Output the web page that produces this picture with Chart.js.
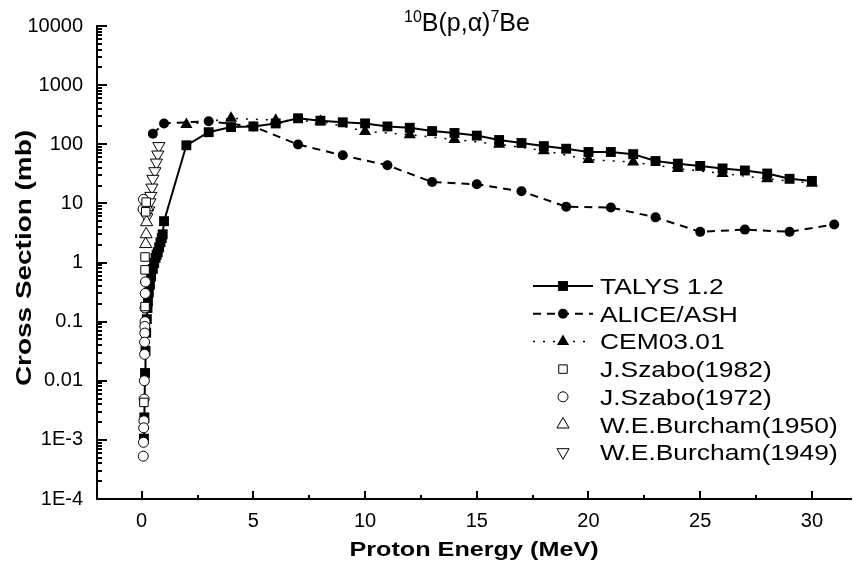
<!DOCTYPE html>
<html>
<head>
<meta charset="utf-8">
<script src="https://cdn.jsdelivr.net/npm/chart.js@4.4.0/dist/chart.umd.min.js"></script>
<style>
  html, body { margin: 0; padding: 0; background: #fff; }
  #wrap { width: 859px; height: 566px; }
</style>
</head>
<body>
<div id="wrap"><canvas id="chart" width="859" height="566"></canvas></div>
<script>
// Values (energy in MeV, cross section in mb)
const talysE = [0.10, 0.12, 0.15, 0.17, 0.20, 0.23, 0.26, 0.28, 0.32, 0.37, 0.42, 0.50, 0.56, 0.62, 0.67, 0.72, 0.78, 0.84, 0.90, 0.94,
  1, 2, 3, 4, 5, 6, 7, 8, 9, 10, 11, 12, 13, 14, 15, 16, 17, 18, 19, 20, 21, 22, 23, 24, 25, 26, 27, 28, 29, 30];
const talysXS = [0.00105, 0.0024, 0.0135, 0.032, 0.065, 0.11, 0.17, 0.22, 0.31, 0.42, 0.58, 0.78, 0.98, 1.2, 1.35, 1.5, 1.8, 2.2, 2.6, 3.0,
  5.0, 96, 160, 195, 200, 225, 275, 250, 235, 225, 200, 190, 167, 155, 140, 118, 105, 93, 84, 74, 74, 68, 52, 47, 43, 39, 36, 32, 26, 24];

const aliceE = [0.5, 1, 3, 5, 7, 9, 11, 13, 15, 17, 19, 21, 23, 25, 27, 29, 31];
const aliceXS = [150, 225, 245, 200, 99, 65, 44, 23, 21, 16, 8.8, 8.5, 5.8, 3.3, 3.6, 3.3, 4.4];

const cemE = [2, 4, 6, 8, 10, 12, 14, 16, 18, 20, 22, 24, 26, 28, 30];
const cemXS = [215, 275, 255, 245, 165, 145, 120, 100, 78, 55, 50, 39, 32, 26, 22];

const szabo82E = [0.20, 0.18, 0.15, 0.15, 0.15, 0.10];
const szabo82XS = [10.5, 7.2, 1.24, 0.75, 0.18, 0.0043];

const szabo72E = [0.08, 0.06, 0.17, 0.16, 0.15, 0.15, 0.14, 0.14, 0.13, 0.13, 0.12, 0.11, 0.10, 0.09, 0.08, 0.07];
const szabo72XS = [11.7, 8.0, 0.47, 0.30, 0.17, 0.10, 0.083, 0.064, 0.045, 0.028, 0.010, 0.0049, 0.0021, 0.0016, 0.00091, 0.00053];

const burcham50E = [0.25, 0.22, 0.20, 0.18];
const burcham50XS = [8.6, 4.8, 3.0, 2.05];

const burcham49E = [0.77, 0.72, 0.66, 0.59, 0.50, 0.46, 0.41, 0.37, 0.32, 0.23];
const burcham49XS = [93, 67, 49, 35, 26, 18.5, 13.4, 10.4, 7.6, 5.8];

const xTickValues = [0, 5, 10, 15, 20, 25, 30];
const yTickValues = [1e-4, 1e-3, 0.01, 0.1, 1, 10, 100, 1000, 10000];
const yTickLabels = ['1E-4', '1E-3', '0.01', '0.1', '1', '10', '100', '1000', '10000'];

const FONT = '"Liberation Sans", Arial, sans-serif';

function pts(xs, ys) {
  return xs.map((x, i) => ({ x: x, y: ys[i] }));
}

// Inward tick marks, title, axis titles and legend
const decor = {
  id: 'decor',
  afterDraw(chart) {
    const ctx = chart.ctx;
    const a = chart.chartArea;
    const xs = chart.scales.x, ys = chart.scales.y;
    ctx.save();
    ctx.strokeStyle = '#000';
    ctx.lineWidth = 2;
    ctx.setLineDash([]);
    function seg(x1, y1, x2, y2) {
      ctx.beginPath(); ctx.moveTo(x1, y1); ctx.lineTo(x2, y2); ctx.stroke();
    }
    // y axis ticks
    yTickValues.forEach((v, i) => {
      const p = Math.round(ys.getPixelForValue(v));
      seg(a.left, p, a.left + 10, p);
      if (i < yTickValues.length - 1) {
        for (let k = 2; k <= 9; k++) {
          const q = Math.round(ys.getPixelForValue(v * k));
          seg(a.left, q, a.left + 5, q);
        }
      }
    });
    // x axis ticks
    xTickValues.forEach((v) => {
      const p = Math.round(xs.getPixelForValue(v));
      seg(p, a.bottom, p, a.bottom - 8);
      const m = xs.getPixelForValue(v + 2.5);
      if (m < a.right) seg(Math.round(m), a.bottom, Math.round(m), a.bottom - 4);
    });

    // title 10B(p,a)7Be
    ctx.fillStyle = '#000';
    ctx.textBaseline = 'alphabetic';
    let tx = 404;
    const ty = 31;
    const parts = [['10', 16, -9], ['B(p,\u03b1)', 25, 0], ['7', 16, -9], ['Be', 25, 0]];
    parts.forEach(([t, s, dy]) => {
      ctx.font = s + 'px ' + FONT;
      ctx.fillText(t, tx, ty + dy);
      tx += ctx.measureText(t).width;
    });

    // axis titles
    ctx.textAlign = 'center';
    ctx.textBaseline = 'middle';
    ctx.font = 'bold 21px ' + FONT;
    ctx.save();
    ctx.translate((a.left + a.right) / 2, 550);
    ctx.scale(1.2, 1);
    ctx.fillText('Proton Energy (MeV)', 0, 0);
    ctx.restore();
    ctx.font = 'bold 22px ' + FONT;
    ctx.save();
    ctx.translate(25, 258);
    ctx.rotate(-Math.PI / 2);
    ctx.scale(1.27, 1);
    ctx.fillText('Cross Section (mb)', 0, 0);
    ctx.restore();

    // legend
    ctx.textAlign = 'left';
    ctx.textBaseline = 'alphabetic';
    chart.data.datasets.forEach((ds, i) => {
      const ry = 286 + i * 27.7;
      if (ds.showLine) {
        ctx.strokeStyle = '#000';
        ctx.lineWidth = ds.borderWidth;
        ctx.setLineDash(ds.borderDash || []);
        seg(533, ry, 593, ry);
        ctx.setLineDash([]);
      }
      ctx.fillStyle = ds.pointBackgroundColor;
      ctx.strokeStyle = '#000';
      ctx.lineWidth = ds.pointBorderWidth;
      Chart.helpers.drawPoint(ctx, {
        pointStyle: ds.pointStyle,
        radius: ds.pointRadius,
        rotation: ds.pointRotation || 0,
        borderWidth: ds.pointBorderWidth
      }, 563, ry);
      ctx.fillStyle = '#000';
      ctx.font = '22px ' + FONT;
      ctx.save();
      ctx.translate(600, ry + 8);
      ctx.scale(1.2, 1);
      ctx.fillText(ds.label, 0, 0);
      ctx.restore();
    });
    ctx.restore();
  }
};

const model = (label, xs, ys, style, radius, dash, width, order) => ({
  label: label,
  data: pts(xs, ys),
  showLine: true,
  borderColor: '#000',
  borderWidth: width,
  borderDash: dash,
  pointStyle: style,
  pointRadius: radius,
  pointBackgroundColor: '#000',
  pointBorderColor: '#000',
  pointBorderWidth: 0,
  tension: 0,
  order: order
});

const expt = (label, xs, ys, style, radius, rot) => ({
  label: label,
  data: pts(xs, ys),
  showLine: false,
  borderColor: '#000',
  borderWidth: 1,
  pointStyle: style,
  pointRadius: radius,
  pointRotation: rot,
  pointBackgroundColor: '#fff',
  pointBorderColor: '#000',
  pointBorderWidth: 1,
  order: 0
});

new Chart(document.getElementById('chart'), {
  type: 'line',
  data: {
    datasets: [
      model('TALYS 1.2', talysE, talysXS, 'rect', 7, [], 2, 1),
      model('ALICE/ASH', aliceE, aliceXS, 'circle', 5, [8, 6], 2, 2),
      model('CEM03.01', cemE, cemXS, 'triangle', 7, [2, 8], 1.5, 3),
      expt('J.Szabo(1982)', szabo82E, szabo82XS, 'rect', 6, 0),
      expt('J.Szabo(1972)', szabo72E, szabo72XS, 'circle', 5, 0),
      expt('W.E.Burcham(1950)', burcham50E, burcham50XS, 'triangle', 7, 0),
      expt('W.E.Burcham(1949)', burcham49E, burcham49XS, 'triangle', 7, 180)
    ]
  },
  options: {
    responsive: false,
    animation: false,
    devicePixelRatio: 1,
    layout: { padding: { top: 23, right: 0, bottom: 0, left: 0 } },
    plugins: {
      legend: { display: false },
      tooltip: { enabled: false },
      title: { display: false }
    },
    scales: {
      x: {
        type: 'linear',
        min: -2,
        max: 31.75,
        afterBuildTicks: (s) => { s.ticks = xTickValues.map((v) => ({ value: v })); },
        afterFit: (s) => { s.height = 67; },
        grid: { display: false, drawTicks: false },
        border: { display: true, color: '#000', width: 2 },
        ticks: { color: '#000', font: { family: FONT, size: 20 }, padding: 10, maxRotation: 0, autoSkip: false }
      },
      y: {
        type: 'logarithmic',
        min: 1e-4,
        max: 1e4,
        afterBuildTicks: (s) => { s.ticks = yTickValues.map((v) => ({ value: v })); },
        afterFit: (s) => { s.width = 97; },
        grid: { display: false, drawTicks: false },
        border: { display: true, color: '#000', width: 2 },
        ticks: {
          color: '#000',
          font: { family: FONT, size: 20 },
          padding: 14,
          autoSkip: false,
          callback: (v, i) => yTickLabels[i]
        }
      }
    }
  },
  plugins: [decor]
});
</script>
</body>
</html>
